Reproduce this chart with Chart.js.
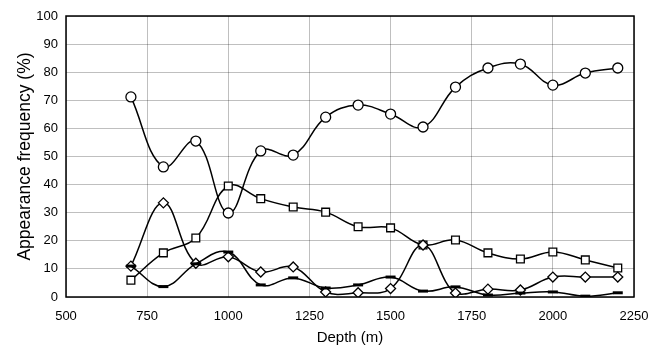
<!DOCTYPE html>
<html>
<head>
<meta charset="utf-8">
<script src="https://cdn.jsdelivr.net/npm/chart.js@4"></script>
<style>
  body { margin: 0; background: #fff; }
  #wrap { width: 650px; height: 351px; }
</style>
</head>
<body>
<div id="wrap"><canvas id="chart"></canvas></div>
<script>
// depth (m)
var depths = [700, 800, 900, 1000, 1100, 1200, 1300, 1400, 1500, 1600, 1700, 1800, 1900, 2000, 2100, 2200];
// appearance frequency (%) per series
var circles  = [71.2, 46.3, 55.5, 29.9, 52, 50.5, 64, 68.3, 65.1, 60.5, 74.7, 81.5, 82.9, 75.4, 79.7, 81.5];
var squares  = [6, 15.7, 21, 39.5, 35, 32, 30.2, 25, 24.6, 18.5, 20.3, 15.7, 13.5, 16, 13.2, 10.3];
var diamonds = [11, 33.5, 12, 14.3, 8.9, 10.7, 1.8, 1.5, 3, 18.5, 1.4, 2.8, 2.5, 7.1, 7.1, 7.1];
var dashes   = [11, 3.7, 11.8, 16, 4.3, 6.8, 3.2, 4.3, 7.1, 2.1, 3.6, 0.7, 1.4, 1.8, 0.3, 1.5];
var xTicks = [500, 750, 1000, 1250, 1500, 1750, 2000, 2250];

function pts(vals) {
    return depths.map(function(d, i){ return {x: d, y: vals[i]}; });
}

var font = 'Liberation Sans, Arial, sans-serif';

//draws the box round the plot area
var frame = {
    id: 'frame',
    afterDraw: function(chart){
        var a = chart.chartArea, ctx = chart.ctx;
        ctx.save();
        ctx.strokeStyle = '#000';
        ctx.lineWidth = 1.5;
        ctx.strokeRect(a.left, a.top, a.right - a.left, a.bottom - a.top);
        ctx.restore();
    }
};

function ds(vals, style, r, fill) {
    return {
        data: pts(vals),
        borderColor: '#000',
        borderWidth: 1.5,
        backgroundColor: fill,
        pointStyle: style,
        pointRadius: r,
        pointBorderWidth: 1.3,
        pointBackgroundColor: fill,
        pointBorderColor: '#000',
        tension: 0.4,
        fill: false
    };
}

var lineDash = ds(dashes, 'line', 5, '#000');
lineDash.pointBorderWidth = 3;

new Chart(document.getElementById('chart'), {
    type: 'line',
    data: {
        datasets: [
            lineDash,
            ds(diamonds, 'rectRot', 5, '#fff'),
            ds(squares, 'rect', 5.5, '#fff'),
            ds(circles, 'circle', 5, '#fff')
        ]
    },
    options: {
        responsive: true,
        maintainAspectRatio: false,
        animation: false,
        layout: { padding: { top: 16, right: 16, left: 0, bottom: 0 } },
        plugins: { legend: { display: false }, tooltip: { enabled: false } },
        scales: {
            x: {
                type: 'linear',
                min: 500, max: 2250,
                afterBuildTicks: function(axis){ axis.ticks = xTicks.map(function(v){ return {value: v}; }); },
                grid: { color: 'rgba(0,0,0,0.25)', drawTicks: false },
                border: { display: false },
                ticks: { color: '#000', font: { family: font, size: 13 }, padding: 12, maxRotation: 0,
                         callback: function(v){ return String(v); } },
                title: { display: true, text: 'Depth (m)', color: '#000', font: { family: font, size: 15 }, padding: { top: 2, bottom: 4 } },
                afterFit: function(axis){
                    axis.height = 54;
                    axis.paddingLeft = 0;
                    axis.paddingRight = 0;
                }
            },
            y: {
                min: 0, max: 100,
                ticks: { stepSize: 10, color: '#000', font: { family: font, size: 13 }, padding: 8 },
                grid: { color: 'rgba(0,0,0,0.25)', drawTicks: false },
                border: { display: false },
                title: { display: true, text: 'Appearance frequency (%)', color: '#000', font: { family: font, size: 17.5 }, padding: { top: 15, bottom: 0 } },
                afterFit: function(axis){ axis.width = 66; }
            }
        }
    },
    plugins: [frame]
});
</script>
</body>
</html>
